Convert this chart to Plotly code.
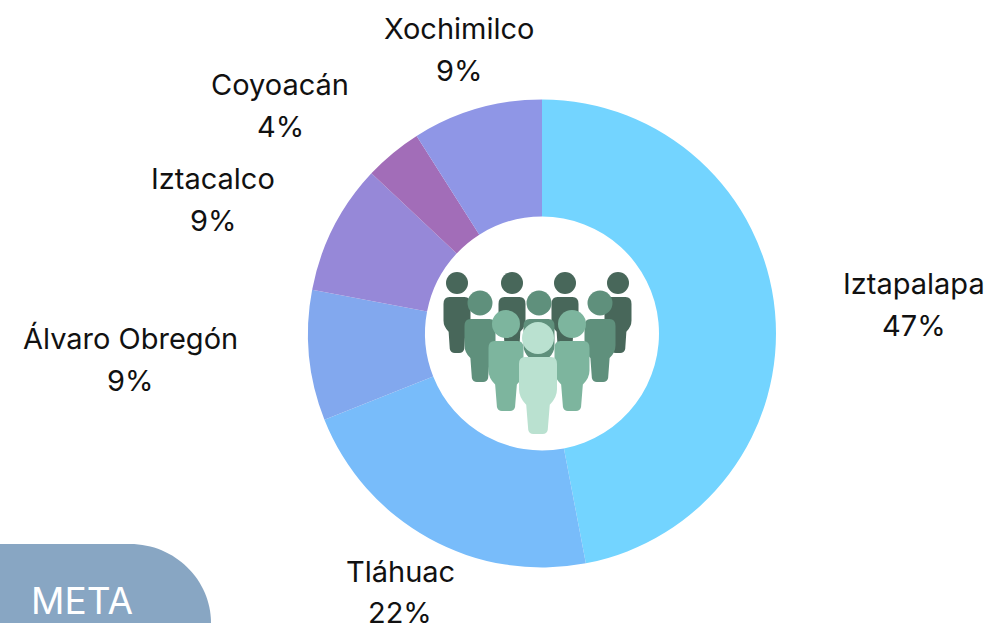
import plotly.graph_objects as go

W, H = 995, 623
names = ["Iztapalapa", "Tláhuac", "Álvaro Obregón", "Iztacalco", "Coyoacán", "Xochimilco"]
values = [47, 22, 9, 9, 4, 9]
colors = ["#73D4FF", "#78BCFA", "#82A8EE", "#9688D8", "#A26DB8", "#8F96E6"]
label_xy = [(914, 284), (400, 571), (130, 339), (213, 179), (280, 85), (459, 29)]
LINE_GAP = 41
FONT = "Inter"
FS = 29


def X(p):
    return p / W


def Y(p):
    return 1 - p / H


def P(x, y):
    return f"{X(x):.5f},{Y(y):.5f}"


def person(cx, head_y, r, top, bottom, w, color):
    hw = w / 2
    h = bottom - top
    leg = hw * 0.46
    d = (
        f"M{P(cx - hw + 6, top)} L{P(cx + hw - 6, top)} "
        f"Q{P(cx + hw, top)} {P(cx + hw, top + 7)} "
        f"L{P(cx + hw, top + h * 0.42)} "
        f"Q{P(cx + hw, top + h * 0.53)} {P(cx + hw * 0.62, top + h * 0.62)} "
        f"L{P(cx + leg + 1, bottom - 4)} Q{P(cx + leg, bottom)} {P(cx + leg - 4, bottom)} "
        f"L{P(cx - leg + 4, bottom)} Q{P(cx - leg, bottom)} {P(cx - leg - 1, bottom - 4)} "
        f"L{P(cx - hw * 0.62, top + h * 0.62)} "
        f"Q{P(cx - hw, top + h * 0.53)} {P(cx - hw, top + h * 0.42)} "
        f"L{P(cx - hw, top + 7)} Q{P(cx - hw, top)} {P(cx - hw + 6, top)} Z"
    )
    return [
        dict(type="path", xref="paper", yref="paper", path=d, fillcolor=color, line_width=0, layer="above"),
        dict(type="circle", xref="paper", yref="paper", x0=X(cx - r), x1=X(cx + r),
             y0=Y(head_y + r), y1=Y(head_y - r), fillcolor=color, line_width=0, layer="above"),
    ]


shapes = []
for cx in (457, 512, 565, 618):
    shapes += person(cx, 283, 11, 297, 353, 27, "#48675A")
for cx in (480, 539, 600):
    shapes += person(cx, 303, 12.5, 319, 382, 31, "#5F907C")
for cx in (506, 572):
    shapes += person(cx, 324, 14, 341, 411, 35, "#7DB59E")
shapes += person(538, 338, 16, 357, 434, 38, "#BAE1D0")

meta = (
    f"M{P(0, 544)} L{P(130, 544)} C{P(175, 544)} {P(211, 580)} {P(211, 623)} "
    f"L{P(0, 623)} Z"
)
shapes.append(dict(type="path", xref="paper", yref="paper", path=meta,
                   fillcolor="#88A6C3", line_width=0, layer="below"))

annotations = []
for n, v, (x, y) in zip(names, values, label_xy):
    for txt, yy in ((n, y), (f"{v}%", y + LINE_GAP)):
        annotations.append(dict(x=X(x), y=Y(yy), xref="paper", yref="paper", showarrow=False,
                                text=txt, align="center", xanchor="center", yanchor="middle",
                                font=dict(family=FONT, size=FS, color="#111111")))
annotations.append(dict(x=X(82), y=Y(600), xref="paper", yref="paper", showarrow=False,
                        text="META", xanchor="center", yanchor="middle",
                        font=dict(family=FONT, size=37, color="#FFFFFF")))

fig = go.Figure(go.Pie(
    labels=names, values=values, sort=False, direction="clockwise", rotation=0,
    hole=0.5, marker=dict(colors=colors, line=dict(width=0)), textinfo="none",
    domain=dict(x=[X(542 - 234), X(542 + 234)], y=[Y(333.5 + 234), Y(333.5 - 234)]),
))
fig.update_layout(width=W, height=H, margin=dict(l=0, r=0, t=0, b=0), showlegend=False,
                  paper_bgcolor="white", plot_bgcolor="white",
                  shapes=shapes, annotations=annotations)
fig.write_html("out.html", config={"displayModeBar": False},
               post_script="document.body.style.margin='0';document.documentElement.style.overflow='hidden';")
